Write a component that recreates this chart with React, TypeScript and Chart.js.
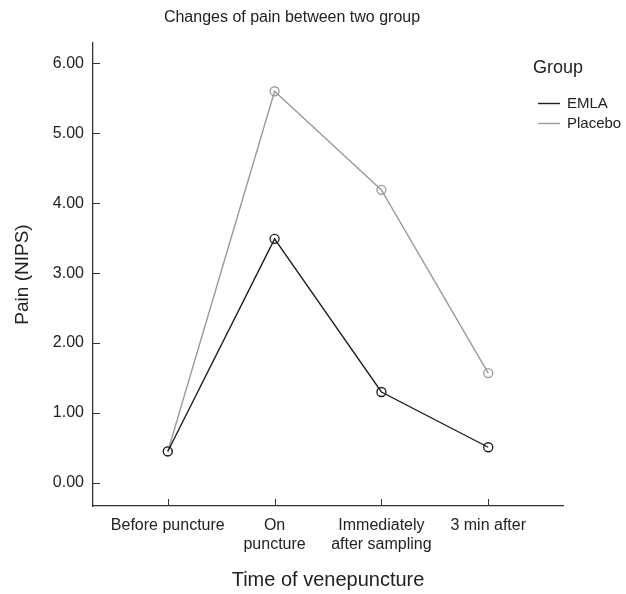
import React, { useEffect, useRef } from "react";
import { Chart, registerables } from "chart.js";

Chart.register(...registerables);

const chartTitle = "Changes of pain between two group";
const categories: (string | string[])[] = [
  "Before puncture",
  ["On", "puncture"],
  ["Immediately", "after sampling"],
  "3 min after",
];
const emlaValues = [0.45, 3.49, 1.3, 0.51];
const placeboValues = [0.45, 5.6, 4.19, 1.57];
const yTickValues = [0, 1, 2, 3, 4, 5, 6];
const seriesNames = ["EMLA", "Placebo"];
const legendTitle = "Group";
const xAxisTitle = "Time of venepuncture";
const yAxisTitle = "Pain (NIPS)";

const FONT = "'Liberation Sans', Arial, Helvetica, sans-serif";
const EMLA_COLOR = "#1e1e1e";
const PLACEBO_COLOR = "#9a9a9a";
const AXIS_COLOR = "#333333";

export default function App() {
  const ref = useRef<HTMLCanvasElement | null>(null);

  useEffect(() => {
    document.body.style.margin = "0";
    if (!ref.current) return;

    const overlay = {
      id: "overlay",
      afterDraw(chart: any) {
        const ctx = chart.ctx as CanvasRenderingContext2D;
        const xs = chart.scales.x;
        const ys = chart.scales.y;
        const area = chart.chartArea;
        ctx.save();
        // inward tick marks
        ctx.strokeStyle = AXIS_COLOR;
        ctx.lineWidth = 1;
        yTickValues.forEach((v) => {
          const py = Math.round(ys.getPixelForValue(v)) + 0.5;
          ctx.beginPath();
          ctx.moveTo(area.left, py);
          ctx.lineTo(area.left + 7, py);
          ctx.stroke();
        });
        categories.forEach((_, i) => {
          const px = Math.round(xs.getPixelForValue(i)) + 0.5;
          ctx.beginPath();
          ctx.moveTo(px, area.bottom);
          ctx.lineTo(px, area.bottom - 7);
          ctx.stroke();
        });
        // title
        ctx.fillStyle = "#222";
        ctx.font = `16px ${FONT}`;
        ctx.textAlign = "center";
        ctx.textBaseline = "middle";
        ctx.fillText(chartTitle, 292, 18);
        // legend
        ctx.textAlign = "left";
        ctx.font = `18px ${FONT}`;
        ctx.fillText(legendTitle, 533, 68);
        ctx.font = `15px ${FONT}`;
        chart.data.datasets.forEach((ds: any, i: number) => {
          const ly = 103 + i * 20;
          ctx.strokeStyle = ds.borderColor;
          ctx.lineWidth = 1.4;
          ctx.beginPath();
          ctx.moveTo(538, ly + 0.5);
          ctx.lineTo(560, ly + 0.5);
          ctx.stroke();
          ctx.fillStyle = "#222";
          ctx.fillText(ds.label, 567, ly + 1);
        });
        ctx.restore();
      },
    };

    const chart = new Chart(ref.current, {
      type: "line",
      data: {
        datasets: [
          {
            label: seriesNames[0],
            data: emlaValues.map((v, i) => ({ x: i, y: v })),
            borderColor: EMLA_COLOR,
            backgroundColor: "rgba(0,0,0,0)",
            borderWidth: 1.4,
            pointRadius: 4.5,
            pointBorderWidth: 1.3,
            pointBorderColor: EMLA_COLOR,
            pointBackgroundColor: "rgba(0,0,0,0)",
            tension: 0,
          },
          {
            label: seriesNames[1],
            data: placeboValues.map((v, i) => ({ x: i, y: v })),
            borderColor: PLACEBO_COLOR,
            backgroundColor: "rgba(0,0,0,0)",
            borderWidth: 1.4,
            pointRadius: 4.5,
            pointBorderWidth: 1.3,
            pointBorderColor: PLACEBO_COLOR,
            pointBackgroundColor: "rgba(0,0,0,0)",
            tension: 0,
          },
        ],
      },
      options: {
        responsive: false,
        animation: false,
        devicePixelRatio: window.devicePixelRatio || 1,
        layout: { padding: { top: 43, right: 63, left: 0, bottom: 0 } },
        plugins: {
          legend: { display: false },
          title: { display: false },
          tooltip: { enabled: false },
        },
        scales: {
          x: {
            type: "linear",
            min: -0.7,
            max: 3.7,
            grid: { display: false, drawTicks: false, tickLength: 0 },
            border: { display: true, color: AXIS_COLOR, width: 1.3 },
            afterBuildTicks: (s: any) => {
              s.ticks = categories.map((_, i) => ({ value: i }));
            },
            afterFit: (s: any) => {
              s.height = 88;
            },
            ticks: {
              autoSkip: false,
              maxRotation: 0,
              minRotation: 0,
              padding: 10,
              color: "#222",
              font: { family: FONT, size: 16 },
              callback: (v: any) => categories[Number(v)] as any,
            },
            title: {
              display: true,
              text: xAxisTitle,
              color: "#222",
              font: { family: FONT, size: 20 },
              padding: { top: 0, bottom: 2 },
            },
          },
          y: {
            type: "linear",
            min: -0.33,
            max: 6.29,
            grid: { display: false, drawTicks: false, tickLength: 0 },
            border: { display: true, color: AXIS_COLOR, width: 1.3 },
            afterBuildTicks: (s: any) => {
              s.ticks = yTickValues.map((v) => ({ value: v }));
            },
            afterFit: (s: any) => {
              s.width = 93;
            },
            ticks: {
              padding: 9,
              color: "#222",
              font: { family: FONT, size: 16 },
              callback: (v: any) => Number(v).toFixed(2),
            },
            title: {
              display: true,
              text: yAxisTitle,
              color: "#222",
              font: { family: FONT, size: 19 },
              padding: { top: 11, bottom: 0 },
            },
          },
        },
      },
      plugins: [overlay],
    } as any);

    return () => chart.destroy();
  }, []);

  return (
    <div style={{ width: 626, height: 594, background: "#fff" }}>
      <canvas ref={ref} width={626} height={594} style={{ width: 626, height: 594, display: "block" }} />
    </div>
  );
}
